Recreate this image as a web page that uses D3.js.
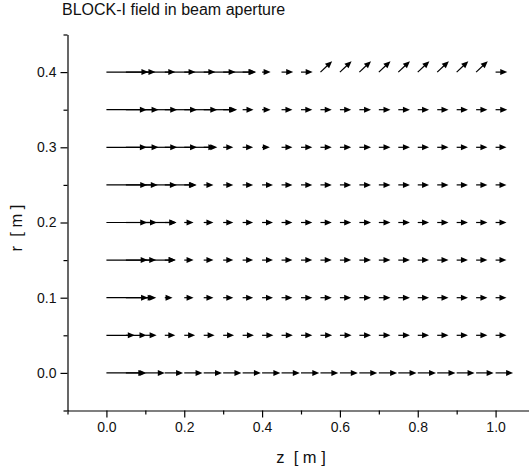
<!DOCTYPE html>
<html>
<head>
<meta charset="utf-8">
<script src="https://cdn.jsdelivr.net/npm/d3@7"></script>
<style>
  body { margin: 0; background: #fff; }
  svg { display: block; font-family: "Liberation Sans", Arial, sans-serif; }
</style>
</head>
<body>
<svg id="chart" width="529" height="473"></svg>
<script>
// grid of z positions (m) where the field vectors start
var zGrid = [0, 0.05, 0.1, 0.15, 0.2, 0.25, 0.3, 0.35, 0.4, 0.45, 0.5,
             0.55, 0.6, 0.65, 0.7, 0.75, 0.8, 0.85, 0.9, 0.95, 1.0];
// radial positions of the rows (m)
var rRows = [0, 0.05, 0.1, 0.15, 0.2, 0.25, 0.3, 0.35, 0.4];

// vector magnitudes per row (drawn length in m along z)
var mag00 = [0.100, 0.053, 0.050, 0.047, 0.047, 0.047, 0.047, 0.047, 0.047, 0.047, 0.047,
             0.046, 0.046, 0.046, 0.047, 0.047, 0.047, 0.047, 0.046, 0.045, 0.045];
var mag05 = [0.103, 0.023, 0.029, 0.027, 0.028, 0.028, 0.028, 0.029, 0.029, 0.029, 0.029,
             0.030, 0.030, 0.030, 0.030, 0.030, 0.029, 0.029, 0.029, 0.029, 0.028];
var mag10 = [0.107, 0.074, 0.028, 0.020, 0.024, 0.025, 0.026, 0.027, 0.028, 0.028, 0.029,
             0.029, 0.029, 0.030, 0.030, 0.030, 0.029, 0.029, 0.029, 0.029, 0.028];
var mag15 = [0.106, 0.078, 0.078, 0.028, 0.024, 0.025, 0.026, 0.027, 0.028, 0.028, 0.029,
             0.029, 0.029, 0.030, 0.030, 0.030, 0.029, 0.029, 0.029, 0.029, 0.028];
var mag20 = [0.105, 0.080, 0.080, 0.030, 0.024, 0.025, 0.026, 0.027, 0.028, 0.028, 0.029,
             0.029, 0.029, 0.030, 0.030, 0.030, 0.029, 0.029, 0.029, 0.029, 0.028];
var mag25 = [0.105, 0.082, 0.081, 0.082, 0.030, 0.025, 0.026, 0.027, 0.028, 0.028, 0.029,
             0.029, 0.029, 0.030, 0.030, 0.030, 0.029, 0.029, 0.029, 0.029, 0.028];
var mag30 = [0.104, 0.084, 0.082, 0.083, 0.085, 0.030, 0.026, 0.027, 0.020, 0.028, 0.029,
             0.029, 0.029, 0.030, 0.030, 0.030, 0.029, 0.029, 0.029, 0.029, 0.028];
var mag35 = [0.104, 0.084, 0.082, 0.083, 0.085, 0.086, 0.033, 0.028, 0.022, 0.028, 0.029,
             0.029, 0.029, 0.030, 0.030, 0.030, 0.029, 0.029, 0.029, 0.029, 0.030];
var mag40 = [0.108, 0.076, 0.077, 0.079, 0.080, 0.082, 0.083, 0.035, 0.022, 0.030, 0.030,
             0.041, 0.041, 0.041, 0.041, 0.041, 0.041, 0.041, 0.041, 0.041, 0.030];
// direction (degrees from +z) in the top row, all other rows are along z
var ang40 = [0, 0, 0, 0, 0, 0, 0, 0, 0, 0, 0,
             43, 43, 43, 43, 43, 43, 43, 43, 43, 0];

var magRows = [mag00, mag05, mag10, mag15, mag20, mag25, mag30, mag35, mag40];

var xMajor = [0, 0.2, 0.4, 0.6, 0.8, 1.0];
var xMinor = [-0.1, 0.1, 0.3, 0.5, 0.7, 0.9, 1.1];
var yMajor = [0, 0.1, 0.2, 0.3, 0.4];
var yMinor = [-0.05, 0.05, 0.15, 0.25, 0.35, 0.45];

var svg = d3.select("#chart");
var margin = {top: 34.5, left: 67.5, bottom: 62.5};
var height = +svg.attr("height") - margin.top - margin.bottom;

var x = d3.scaleLinear().domain([-0.1, 1.1]).range([margin.left, margin.left + 467]);
var y = d3.scaleLinear().domain([-0.05, 0.45]).range([margin.top + height, margin.top]);

var fmt = d3.format(".1f");

// axes
var gx = svg.append("g").attr("transform", "translate(0," + y(-0.05) + ")");
gx.call(d3.axisBottom(x).tickValues(xMajor).tickFormat(fmt).tickSize(7).tickSizeOuter(0).tickPadding(5));
gx.append("g").call(d3.axisBottom(x).tickValues(xMinor).tickFormat("").tickSize(4).tickSizeOuter(0))
  .select(".domain").remove();

var gy = svg.append("g").attr("transform", "translate(" + x(-0.1) + ",0)");
gy.call(d3.axisLeft(y).tickValues(yMajor).tickFormat(fmt).tickSize(7).tickSizeOuter(0).tickPadding(4));
gy.append("g").call(d3.axisLeft(y).tickValues(yMinor).tickFormat("").tickSize(4).tickSizeOuter(0))
  .select(".domain").remove();

svg.selectAll(".tick text").attr("font-size", 14).attr("fill", "#111").attr("font-family", null);
svg.selectAll(".domain, .tick line").attr("stroke", "#000").attr("stroke-width", 1.2);

// titles
svg.append("text").attr("x", 62).attr("y", 15).attr("font-size", 16).attr("fill", "#111")
  .text("BLOCK-I field in beam aperture");
svg.append("text").attr("x", x(0.5)).attr("y", 463).attr("text-anchor", "middle")
  .attr("font-size", 16.5).attr("fill", "#111").attr("xml:space", "preserve").text("z  [ m ]");
svg.append("text").attr("transform", "translate(22," + 228 + ") rotate(-90)")
  .attr("text-anchor", "middle").attr("font-size", 16.5).attr("fill", "#111")
  .attr("xml:space", "preserve").text("r  [ m ]");

// vectors
var kx = x(1) - x(0);
var headLen = 7, headW = 3;
var vectors = [];
rRows.forEach(function (r, j) {
    zGrid.forEach(function (z, i) {
        vectors.push({z: z, r: r, m: magRows[j][i], a: j === rRows.length - 1 ? ang40[i] : 0});
    });
});

var vec = svg.append("g").selectAll("g")
    .data(vectors)
    .enter().append("g")
    .attr("transform", function (d) {
        return "translate(" + x(d.z) + "," + y(d.r) + ") rotate(" + (-d.a) + ")";
    });
vec.append("line")
    .attr("x1", 0).attr("y1", 0)
    .attr("x2", function (d) { return Math.max(0, d.m * kx - headLen + 1); })
    .attr("y2", 0)
    .attr("stroke", "#000").attr("stroke-width", 1.2);
vec.append("path")
    .attr("d", function (d) {
        var L = d.m * kx;
        return "M" + L + ",0L" + (L - headLen) + "," + (-headW) + "L" + (L - headLen) + "," + headW + "Z";
    })
    .attr("fill", "#000");
</script>
</body>
</html>
